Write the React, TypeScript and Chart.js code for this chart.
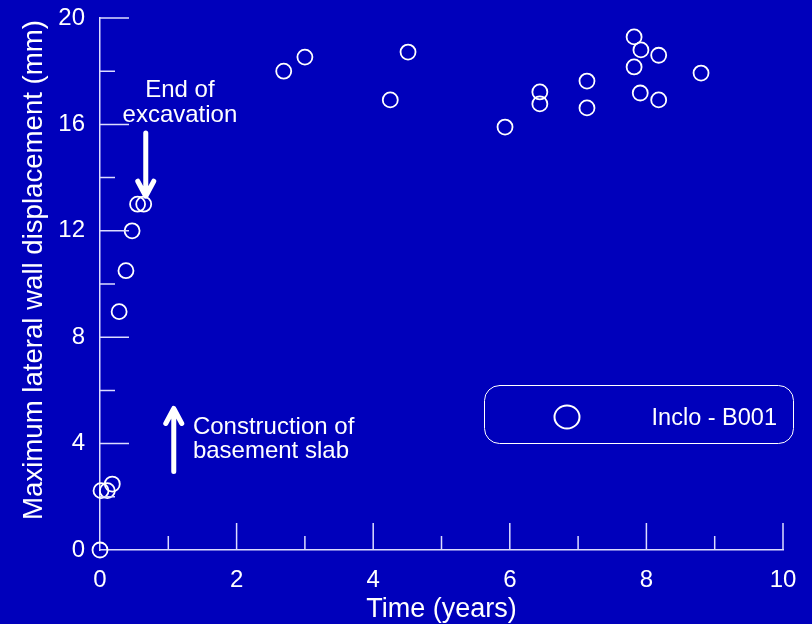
import React, { useEffect, useRef } from "react";
import { Chart, registerables } from "chart.js";

Chart.register(...registerables);

const timeYears = [0, 0.015, 0.107, 0.18, 0.28, 0.38, 0.47, 0.55, 0.64, 2.69, 3.0, 4.25, 4.51, 5.93, 6.44, 6.44, 7.13, 7.13, 7.82, 7.82, 7.92, 7.91, 8.18, 8.18, 8.8];
const displacementMm = [0, 2.23, 2.23, 2.48, 8.96, 10.5, 12.0, 13.0, 13.0, 18.0, 18.53, 16.92, 18.72, 15.9, 17.22, 16.77, 17.63, 16.62, 19.29, 18.16, 18.8, 17.18, 18.6, 16.92, 17.93];

const seriesLabel = "Inclo - B001";
const xTitle = "Time (years)";
const yTitle = "Maximum lateral wall displacement (mm)";
const noteTop = ["End of", "excavation"];
const noteBottom = ["Construction of", "basement slab"];

const BG = "#0000BB";
const FONT = '"Liberation Sans", Arial, sans-serif';
const AXIS = "#dcdcff";

const overlayPlugin = {
  id: "overlay",
  beforeDraw(chart: any) {
    const ctx = chart.ctx;
    ctx.save();
    ctx.fillStyle = BG;
    ctx.fillRect(0, 0, chart.width, chart.height);
    ctx.restore();
  },
  afterDraw(chart: any) {
    const ctx = chart.ctx;
    const xs = chart.scales.x;
    const ys = chart.scales.y;
    const x0 = xs.getPixelForValue(0);
    const y0 = ys.getPixelForValue(0);
    ctx.save();
    // inward ticks
    ctx.strokeStyle = AXIS;
    ctx.lineWidth = 1.5;
    ctx.beginPath();
    for (let v = 2; v <= 20; v += 2) {
      const py = ys.getPixelForValue(v);
      const len = v % 4 === 0 ? 29 : 15;
      ctx.moveTo(x0, py);
      ctx.lineTo(x0 + len, py);
    }
    for (let v = 1; v <= 10; v += 1) {
      const px = xs.getPixelForValue(v);
      const len = v % 2 === 0 ? 27 : 14;
      ctx.moveTo(px, y0);
      ctx.lineTo(px, y0 - len);
    }
    ctx.stroke();

    // axis titles
    ctx.fillStyle = "#ffffff";
    ctx.font = `27px ${FONT}`;
    ctx.textAlign = "center";
    ctx.textBaseline = "alphabetic";
    ctx.fillText(xTitle, (xs.left + xs.right) / 2, 617);
    ctx.save();
    ctx.translate(42, 270);
    ctx.rotate(-Math.PI / 2);
    ctx.font = `27.6px ${FONT}`;
    ctx.fillText(yTitle, 0, 0);
    ctx.restore();

    // annotations
    ctx.font = `24px ${FONT}`;
    ctx.textAlign = "center";
    const nx = xs.getPixelForValue(1.17);
    ctx.fillText(noteTop[0], nx, ys.getPixelForValue(17.03));
    ctx.fillText(noteTop[1], nx, ys.getPixelForValue(16.08));
    ctx.textAlign = "left";
    const bx = xs.getPixelForValue(1.36);
    ctx.fillText(noteBottom[0], bx, ys.getPixelForValue(4.36));
    ctx.fillText(noteBottom[1], bx, ys.getPixelForValue(3.46));

    // arrows
    ctx.strokeStyle = "#ffffff";
    ctx.lineWidth = 5;
    ctx.lineCap = "round";
    ctx.lineJoin = "round";
    const ax = xs.getPixelForValue(0.67);
    const aTop = ys.getPixelForValue(15.68);
    const aTip = ys.getPixelForValue(13.3);
    ctx.beginPath();
    ctx.moveTo(ax, aTop);
    ctx.lineTo(ax, aTip);
    ctx.moveTo(ax - 8, aTip - 15);
    ctx.lineTo(ax, aTip);
    ctx.lineTo(ax + 8, aTip - 15);
    ctx.stroke();
    const ux = xs.getPixelForValue(1.08);
    const uBot = ys.getPixelForValue(2.95);
    const uTip = ys.getPixelForValue(5.32);
    ctx.beginPath();
    ctx.moveTo(ux, uBot);
    ctx.lineTo(ux, uTip);
    ctx.moveTo(ux - 8, uTip + 15);
    ctx.lineTo(ux, uTip);
    ctx.lineTo(ux + 8, uTip + 15);
    ctx.stroke();

    // legend box
    ctx.lineWidth = 1;
    ctx.strokeStyle = "#ffffff";
    ctx.beginPath();
    (ctx as any).roundRect(484.5, 385.5, 309, 58, 15);
    ctx.stroke();
    ctx.lineWidth = 2;
    ctx.beginPath();
    ctx.ellipse(567, 417, 12.5, 11.5, 0, 0, Math.PI * 2);
    ctx.stroke();
    ctx.font = `23.5px ${FONT}`;
    ctx.textAlign = "right";
    ctx.fillText(seriesLabel, 777, 425);
    ctx.restore();
  },
};

export default function App() {
  const ref = useRef<HTMLCanvasElement>(null);
  useEffect(() => {
    document.body.style.margin = "0";
    const canvas = ref.current!;
    const chart = new Chart(canvas, {
      type: "scatter",
      data: {
        datasets: [
          {
            label: seriesLabel,
            data: timeYears.map((t, i) => ({ x: t, y: displacementMm[i] })),
            pointStyle: "circle",
            pointRadius: 7.5,
            pointHoverRadius: 7.5,
            borderColor: "#ffffff",
            backgroundColor: "rgba(0,0,0,0)",
            borderWidth: 1.8,
            clip: false,
          },
        ],
      },
      options: {
        responsive: false,
        animation: false,
        devicePixelRatio: 1,
        layout: { padding: { top: 18, right: 29, left: 0, bottom: 0 } },
        plugins: { legend: { display: false }, tooltip: { enabled: false } },
        scales: {
          x: {
            type: "linear",
            min: 0,
            max: 10,
            afterFit: (s: any) => { s.height = 74; s.paddingLeft = 0; s.paddingRight = 0; },
            ticks: { stepSize: 2, color: "#ffffff", font: { family: FONT, size: 24 }, padding: 16, maxRotation: 0 },
            grid: { display: false, drawTicks: false },
            border: { display: true, color: AXIS, width: 1.5 },
          },
          y: {
            type: "linear",
            min: 0,
            max: 20,
            afterFit: (s: any) => { s.width = 100; s.paddingTop = 0; s.paddingBottom = 0; },
            ticks: { stepSize: 4, color: "#ffffff", font: { family: FONT, size: 24 }, padding: 15 },
            grid: { display: false, drawTicks: false },
            border: { display: true, color: AXIS, width: 1.5 },
          },
        },
      },
      plugins: [overlayPlugin],
    } as any);
    return () => chart.destroy();
  }, []);
  return <canvas ref={ref} width={812} height={624} style={{ display: "block" }} />;
}
